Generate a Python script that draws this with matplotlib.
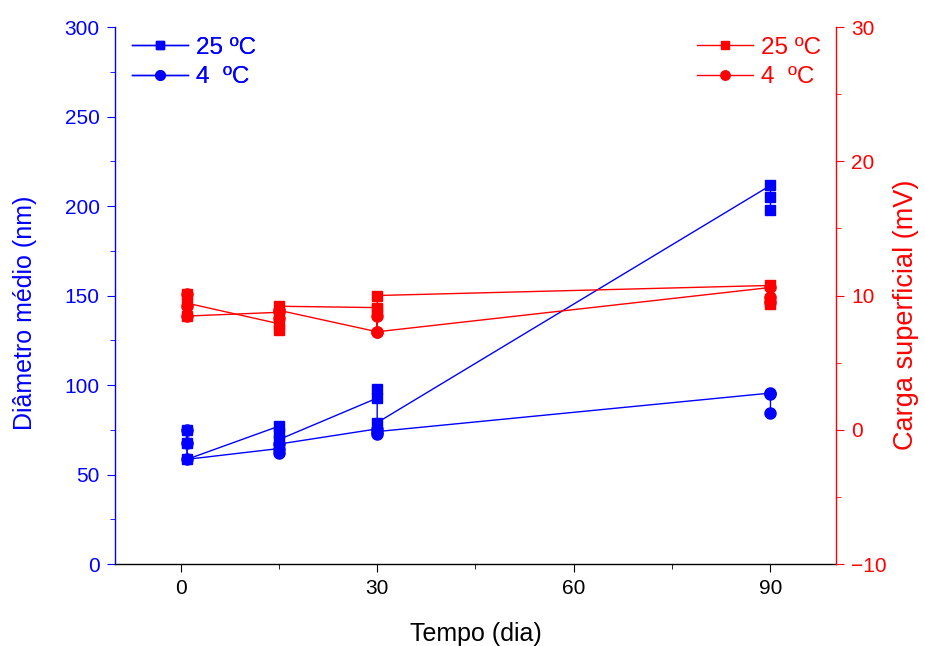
import matplotlib
matplotlib.use("Agg")
import matplotlib.pyplot as plt
from matplotlib.ticker import MultipleLocator
import numpy as np

plt.rcParams['font.family'] = ['Liberation Sans', 'DejaVu Sans']

# Storage time (days), three replicate readings per time point
days = [1, 15, 30, 90]

# Mean diameter (nm)
diam_25C = [[75.0, 67.5, 58.5], [77.0, 73.0, 69.5], [92.7, 97.8, 79.0], [211.5, 205.0, 198.0]]
diam_4C = [[75.0, 67.5, 58.5], [64.5, 62.0, 67.0], [75.5, 72.5, 74.0], [95.5, 95.0, 84.5]]

# Surface charge (mV)
charge_25C = [[10.1, 8.5, 9.43], [7.9, 7.4, 9.2], [9.1, 9.0, 10.0], [10.75, 9.4, 9.6]]
charge_4C = [[10.1, 9.2, 8.47], [8.75, 8.3, 8.9], [7.3, 8.5, 7.3], [10.6, 9.9, 9.5]]

xticks = [0, 30, 60, 90]


def flatten(groups):
    xs, ys = [], []
    for d, reps in zip(days, groups):
        for v in reps:
            xs.append(d)
            ys.append(v)
    return xs, ys


fig = plt.figure(figsize=(9.25, 6.46), dpi=100)
ax = fig.add_axes([0.1243, 0.1269, 0.9038 - 0.1243, 0.9582 - 0.1269])
ax2 = ax.twinx()

blue = '#0000ff'
red = '#ff0000'

x, y = flatten(diam_25C)
h1, = ax.plot(x, y, '-s', color=blue, lw=1.0, ms=7, label='25 ºC')
x, y = flatten(diam_4C)
h2, = ax.plot(x, y, '-o', color=blue, lw=1.0, ms=8, label='4  ºC')

x, y = flatten(charge_25C)
h3, = ax2.plot(x, y, '-s', color=red, lw=1.0, ms=7, label='25 ºC')
x, y = flatten(charge_4C)
h4, = ax2.plot(x, y, '-o', color=red, lw=1.0, ms=8, label='4  ºC')

ax.set_xlim(-10, 100)
ax.set_ylim(0, 300)
ax2.set_ylim(-10, 30)

ax.set_xticks(xticks)
ax.xaxis.set_minor_locator(MultipleLocator(15))
ax.yaxis.set_major_locator(MultipleLocator(50))
ax.yaxis.set_minor_locator(MultipleLocator(25))
ax2.yaxis.set_major_locator(MultipleLocator(10))
ax2.yaxis.set_minor_locator(MultipleLocator(5))

for a in (ax, ax2):
    a.spines['top'].set_visible(False)
ax.spines['right'].set_visible(False)
ax2.spines['left'].set_visible(False)
ax2.spines['bottom'].set_visible(False)
ax.spines['left'].set_color(blue)
ax2.spines['right'].set_color(red)
ax.spines['bottom'].set_color('black')
for s in ('left', 'bottom'):
    ax.spines[s].set_linewidth(1.0)
ax2.spines['right'].set_linewidth(1.0)

tsize = 15
ax.tick_params(axis='y', which='both', direction='out', colors=blue, labelcolor=blue, labelsize=tsize, pad=5)
ax.tick_params(axis='y', which='major', length=6)
ax.tick_params(axis='y', which='minor', length=3.5)
ax.tick_params(axis='x', which='both', direction='out', colors='black', labelsize=tsize, pad=5)
ax.tick_params(axis='x', which='major', length=6)
ax.tick_params(axis='x', which='minor', length=3.5)
ax2.tick_params(axis='y', which='both', direction='out', colors=red, labelcolor=red, labelsize=tsize, pad=5)
ax2.tick_params(axis='y', which='major', length=6)
ax2.tick_params(axis='y', which='minor', length=3.5)

ax.set_xlabel('Tempo (dia)', fontsize=18, labelpad=17)
ax.set_ylabel('Diâmetro médio (nm)', fontsize=18, color=blue)
ax2.set_ylabel('Carga superficial (mV)', fontsize=19.5, color=red)
ax.yaxis.set_label_coords(-0.108, 0.467)
ax2.yaxis.set_label_coords(1.079, 0.464)

leg_kw = dict(frameon=False, fontsize=17.5, handlelength=2.3, labelspacing=0.3,
              handletextpad=0.35, markerscale=0.85, borderaxespad=0.0)
leg1 = ax.legend(handles=[h1, h2], loc='upper left', bbox_to_anchor=(0.01, 1.0),
                 labelcolor=blue, **leg_kw)
ax.add_artist(leg1)
leg2 = ax2.legend(handles=[h3, h4], loc='upper right', bbox_to_anchor=(0.993, 1.0),
                  labelcolor=red, **leg_kw)

fig.savefig('out.png', dpi=100)
